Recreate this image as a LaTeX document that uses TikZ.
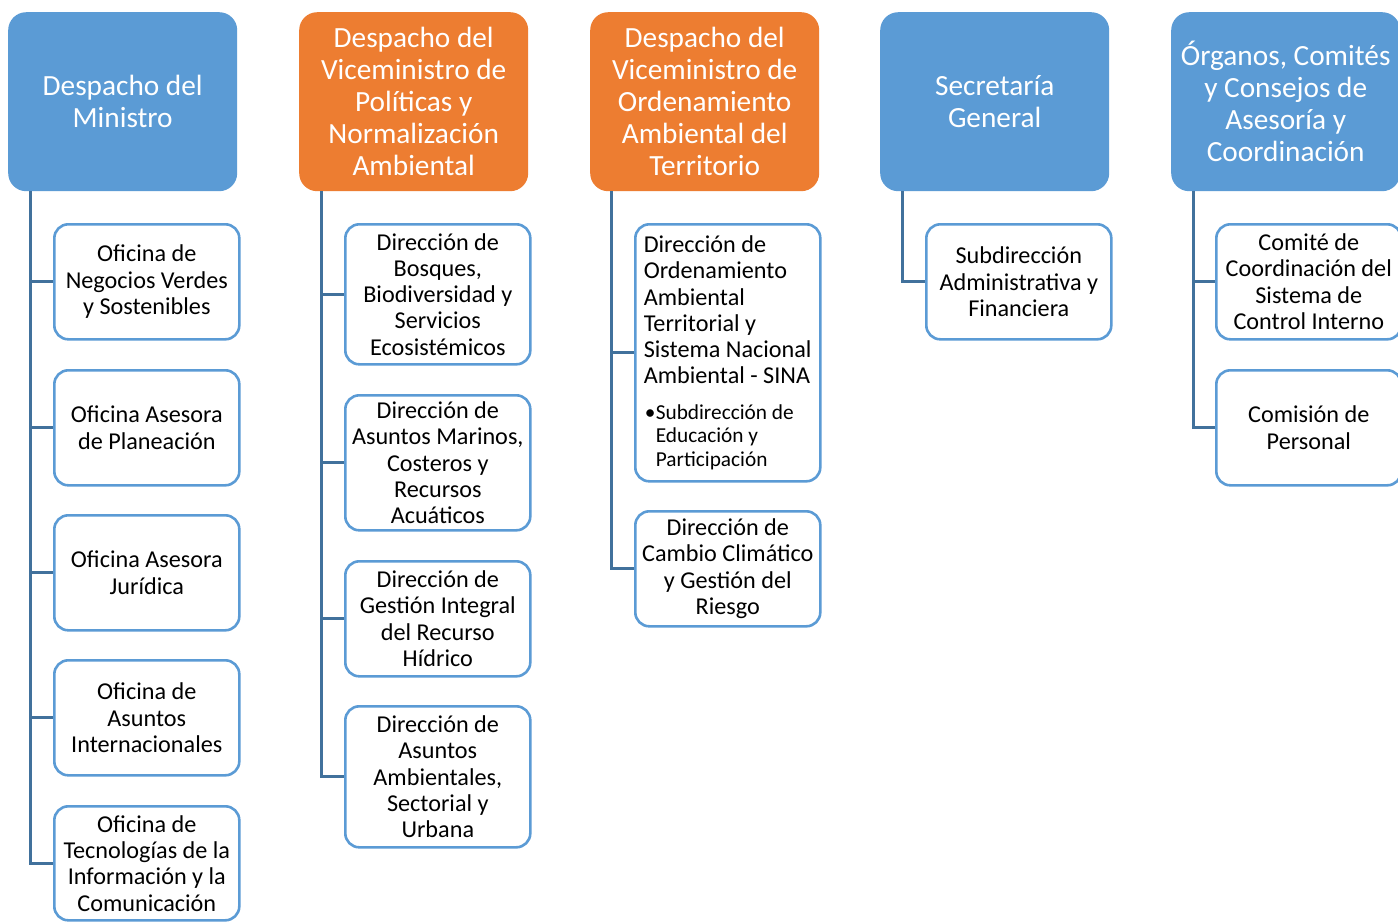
\documentclass[tikz,border=0pt]{standalone}
\usepackage{fontspec}
\setmainfont{Carlito}
\definecolor{hblue}{HTML}{5B9BD5}
\definecolor{horange}{HTML}{ED7D31}
\definecolor{cline}{HTML}{41719C}
\definecolor{cborder}{HTML}{5B9BD5}
\begin{document}
\begin{tikzpicture}[x=1pt,y=-1pt,
 head/.style={rounded corners=18pt, minimum width=229pt, minimum height=179pt, inner sep=0pt, text=white, align=center, font=\fontsize{29.3}{32}\selectfont, anchor=north west},
 hb/.style={head, fill=hblue},
 ho/.style={head, fill=horange},
 child/.style={draw=cborder, line width=2.6pt, rounded corners=14pt, fill=white, minimum width=185pt, inner sep=0pt, align=center, font=\fontsize{24.2}{26.3}\selectfont, anchor=north west},
 conn/.style={draw=cline, line width=3pt}]
\useasboundingbox (0,0) rectangle (1398,922);
\clip (0,0) rectangle (1398,922);
\fill[white] (0,0) rectangle (1398,922);

% headers
\node[hb] (h1) at (8,12) {Despacho del\\Ministro};
\node[ho] (h2) at (299,12) {Despacho del\\Viceministro de\\Políticas y\\Normalización\\Ambiental};
\node[ho] (h3) at (590,12) {Despacho del\\Viceministro de\\Ordenamiento\\Ambiental del\\Territorio};
\node[hb] (h4) at (880,12) {Secretaría\\General};
\node[hb] (h5) at (1171,12) {Órganos, Comités\\y Consejos de\\Asesoría y\\Coordinación};

% vertical line tops
\coordinate (v1) at ([xshift=22pt]h1.south west);
\coordinate (v2) at ([xshift=22pt]h2.south west);
\coordinate (v3) at ([xshift=21pt]h3.south west);
\coordinate (v4) at ([xshift=22pt]h4.south west);
\coordinate (v5) at ([xshift=22pt]h5.south west);

% column 1
\node[child, minimum height=115pt] (c11) at (53,223) {Oficina de\\Negocios Verdes\\y Sostenibles};
\node[child, minimum height=115pt] (c12) at (53,369) {Oficina Asesora\\de Planeación};
\node[child, minimum height=115pt] (c13) at (53,514) {Oficina Asesora\\Jurídica};
\node[child, minimum height=115pt] (c14) at (53,659) {Oficina de\\Asuntos\\Internacionales};
\node[child, minimum height=114pt] (c15) at (53,805) {Oficina de\\Tecnologías de la\\Información y la\\Comunicación};

% column 2
\node[child, minimum height=140pt] (c21) at (344,223) {Dirección de\\Bosques,\\Biodiversidad y\\Servicios\\Ecosistémicos};
\node[child, minimum height=135pt] (c22) at (344,394) {Dirección de\\Asuntos Marinos,\\Costeros y\\Recursos\\Acuáticos};
\node[child, minimum height=115pt] (c23) at (344,560) {Dirección de\\Gestión Integral\\del Recurso\\Hídrico};
\node[child, minimum height=141pt] (c24) at (344,705) {Dirección de\\Asuntos\\Ambientales,\\Sectorial y\\Urbana};

% column 3
\node[child, minimum height=257pt] (c31) at (634,223) {\parbox{168pt}{\raggedright Dirección de\\Ordenamiento\\Ambiental\\Territorial y\\Sistema Nacional\\Ambiental - SINA\par\vspace{12pt}\fontsize{21.3}{23.5}\selectfont\noindent\makebox[12pt][l]{\hspace{1pt}\textbullet}Subdirección de\\\hspace*{12pt}Educación y\\\hspace*{12pt}Participación}};
\node[child, minimum height=115pt] (c32) at (634,510) {Dirección de\\Cambio Climático\\y Gestión del\\Riesgo};

% column 4
\node[child, minimum height=115pt] (c41) at (925,223) {Subdirección\\Administrativa y\\Financiera};

% column 5
\node[child, minimum height=115pt] (c51) at (1215,223) {Comité de\\Coordinación del\\Sistema de\\Control Interno};
\node[child, minimum height=115pt] (c52) at (1215,369) {Comisión de\\Personal};

% connectors
\foreach \c in {c11,c12,c13,c14,c15} \draw[conn] (v1) |- (\c.west);
\foreach \c in {c21,c22,c23,c24} \draw[conn] (v2) |- (\c.west);
\foreach \c in {c31,c32} \draw[conn] (v3) |- (\c.west);
\draw[conn] (v4) |- (c41.west);
\foreach \c in {c51,c52} \draw[conn] (v5) |- (\c.west);
\end{tikzpicture}
\end{document}
